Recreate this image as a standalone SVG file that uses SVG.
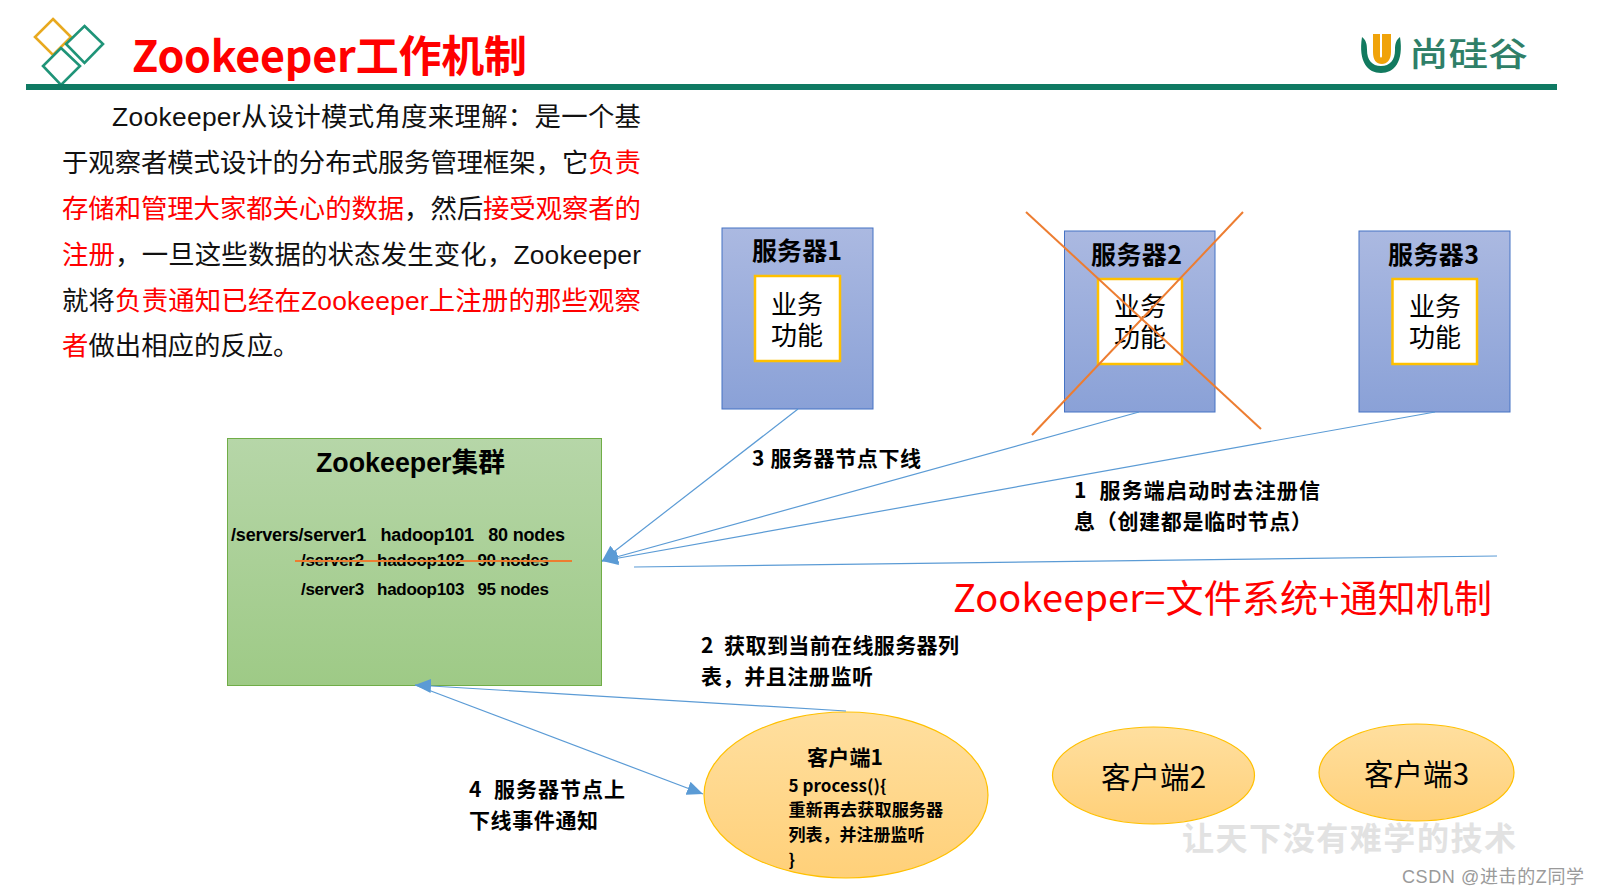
<svg xmlns="http://www.w3.org/2000/svg" width="1598" height="896" viewBox="0 0 1598 896">
<style>
text{font-family:"Noto Sans CJK SC","Noto Sans",sans-serif;fill:#000}
.b{font-weight:700}
.ar{font-family:"Liberation Sans","Noto Sans CJK SC",sans-serif;font-weight:700}
.body{font-family:"Liberation Sans","Noto Sans CJK SC",sans-serif;font-size:26.4px;fill:#111}
.red{fill:#f00}
.lbl{font-size:21px;font-weight:700}
.head{font-size:25px;font-weight:700}
.inner{font-family:"Liberation Sans","Noto Sans CJK SC",sans-serif;font-size:26px;text-anchor:middle}
.srv{fill:url(#blue);stroke:#4472c4;stroke-width:1}
.box{fill:#fff;stroke:#ffc000;stroke-width:2.5}
.cli{fill:url(#orange);stroke:#ffc000;stroke-width:1.2}
.conn{fill:none;stroke:#5b9bd5;stroke-width:1.2}
.cross{fill:none;stroke:#ed7d31;stroke-width:2}
.dia{fill:none;stroke-width:2.6}
</style>
<defs>
<linearGradient id="blue" x1="0" y1="0" x2="0" y2="1"><stop offset="0" stop-color="#abb9e1"/><stop offset="1" stop-color="#8aa1d7"/></linearGradient>
<linearGradient id="green" x1="0" y1="0" x2="0" y2="1"><stop offset="0" stop-color="#b6d6a8"/><stop offset="1" stop-color="#9eca86"/></linearGradient>
<linearGradient id="orange" x1="0" y1="0" x2="0" y2="1"><stop offset="0" stop-color="#ffdf9f"/><stop offset="1" stop-color="#ffd079"/></linearGradient>
<marker id="arrow" markerUnits="userSpaceOnUse" markerWidth="17" markerHeight="14" viewBox="0 0 17 14" refX="16" refY="7" orient="auto"><path d="M0 0L16 7L0 14Z" fill="#5b9bd5"/></marker>
</defs>
<rect width="1598" height="896" fill="#fff"/>

<g id="header">
<path class="dia" stroke="#e8a91f" d="M53 19L71 37L53 55L35 37Z"/>
<path class="dia" stroke="#1f9478" d="M84.500 26L103 44L84.500 63L66 44Z"/>
<path class="dia" stroke="#1f9478" d="M61 48L80 66L61 85L43 66Z"/>
<rect x="26" y="84" width="1531" height="6" fill="#0f7a63"/>
<text class="b" x="132" y="72" font-size="43" textLength="395" style="fill:#f00">Zookeeper工作机制</text>
<path d="M1362 37C1358 62 1368 73 1381 73C1394 73 1404 62 1400 37C1396 40 1395 44 1395 50C1395 60 1390 66 1381 66C1372 66 1367 60 1367 50C1367 44 1366 40 1362 37Z" fill="#127a5f"/>
<path d="M1373 34H1380V56C1380 58 1382 58 1382 56V34H1391V52C1391 60 1387 64 1382 64C1376 64 1373 60 1373 52Z" fill="#f0a30a"/>
<text transform="translate(1409 66) scale(1.2 1)" font-size="33" font-weight="500" style="fill:#2f7f68">尚硅谷</text>
</g>

<g id="description">
<text class="body" x="112" y="126" textLength="529">Zookeeper从设计模式角度来理解：是一个基</text>
<text class="body" x="62" y="172" textLength="579">于观察者模式设计的分布式服务管理框架，它<tspan class="red">负责</tspan></text>
<text class="body" x="62" y="218" textLength="579"><tspan class="red">存储和管理大家都关心的数据</tspan>，然后<tspan class="red">接受观察者的</tspan></text>
<text class="body" x="62" y="264" textLength="579"><tspan class="red">注册</tspan>，一旦这些数据的状态发生变化，Zookeeper</text>
<text class="body" x="62" y="310" textLength="579">就将<tspan class="red">负责通知已经在Zookeeper上注册的那些观察</tspan></text>
<text class="body" x="62" y="355"><tspan class="red">者</tspan>做出相应的反应。</text>
</g>

<g id="server1">
<rect class="srv" x="722" y="228" width="151" height="181"/>
<text class="head" x="752" y="260" textLength="90">服务器1</text>
<rect class="box" x="755" y="276" width="85" height="85"/>
<text class="inner"><tspan x="797" y="314">业务</tspan><tspan x="797" y="345">功能</tspan></text>
</g>
<g id="server2">
<rect class="srv" x="1064.500" y="231" width="150.500" height="181"/>
<text class="head" x="1091" y="264" textLength="91">服务器2</text>
<rect class="box" x="1098" y="279" width="84" height="85"/>
<text class="inner"><tspan x="1140" y="316">业务</tspan><tspan x="1140" y="347">功能</tspan></text>
</g>
<g id="server3">
<rect class="srv" x="1359" y="231" width="151" height="181"/>
<text class="head" x="1388" y="264" textLength="91">服务器3</text>
<rect class="box" x="1392.500" y="279" width="84.500" height="85"/>
<text class="inner"><tspan x="1435" y="316">业务</tspan><tspan x="1435" y="347">功能</tspan></text>
</g>

<g id="cluster">
<rect x="227.500" y="438.500" width="374" height="247" fill="url(#green)" stroke="#70ad47" stroke-width="1"/>
<text class="ar" x="316" y="472" font-size="26.800">Zookeeper集群</text>
<text class="ar" x="231" y="541" font-size="18" textLength="334" xml:space="preserve">/servers/server1   hadoop101   80 nodes</text>
<text class="ar" x="301" y="566" font-size="17" textLength="248" xml:space="preserve">/server2   hadoop102   90 nodes</text>
<text class="ar" x="301" y="595" font-size="17" textLength="248" xml:space="preserve">/server3   hadoop103   95 nodes</text>
</g>

<g id="client1">
<ellipse class="cli" cx="846" cy="795" rx="142" ry="83"/>
<text class="b" x="807" y="765" font-size="21" textLength="76">客户端1</text>
<text class="b" x="788.500" y="792" font-size="17" textLength="98">5 process(){</text>
<text class="b" x="788.500" y="816" font-size="17.200">重新再去获取服务器</text>
<text class="b" x="788.500" y="841" font-size="17">列表，并注册监听</text>
<text class="b" x="788.500" y="866" font-size="17">}</text>
</g>
<g id="client2">
<ellipse class="cli" cx="1153.500" cy="775.500" rx="101" ry="48.500"/>
<text x="1101" y="788" font-size="29.500" textLength="105">客户端2</text>
</g>
<g id="client3">
<ellipse class="cli" cx="1416.500" cy="772.500" rx="97.500" ry="48.500"/>
<text x="1364" y="785" font-size="29.500" textLength="105">客户端3</text>
</g>

<g id="connectors">
<path class="conn" marker-end="url(#arrow)" d="M798 409L602 561"/>
<path class="conn" marker-end="url(#arrow)" d="M1139 412L602 561"/>
<path class="conn" marker-end="url(#arrow)" d="M1435 412L602 561"/>
<path class="conn" d="M634 567L1497 556"/>
<path class="conn" marker-end="url(#arrow)" d="M846 711L415 685"/>
<path class="conn" marker-end="url(#arrow)" d="M415 685L703 794"/>
</g>

<g id="strikes">
<path class="cross" d="M1026 212L1261 429"/>
<path class="cross" d="M1243 212L1032 435"/>
<path class="cross" d="M295 561H572"/>
</g>

<g id="labels">
<text class="lbl" x="752" y="466" textLength="169">3 服务器节点下线</text>
<text class="lbl" x="1074" y="498" textLength="246" xml:space="preserve">1  服务端启动时去注册信</text>
<text class="lbl" x="1074" y="529" textLength="238">息（创建都是临时节点）</text>
<text x="953" y="612" font-size="38" textLength="539" style="fill:#f00">Zookeeper=文件系统+通知机制</text>
<text class="lbl" x="701" y="653" textLength="258" xml:space="preserve">2  获取到当前在线服务器列</text>
<text class="lbl" x="701" y="684" textLength="172">表，并且注册监听</text>
<text class="lbl" x="469" y="797" textLength="156" xml:space="preserve">4  服务器节点上</text>
<text class="lbl" x="469" y="828" textLength="129">下线事件通知</text>
</g>

<g id="watermarks">
<text x="1182" y="850" font-size="32" font-weight="700" textLength="334" style="fill:#e2e2e2">让天下没有难学的技术</text>
<text x="1402" y="883" font-size="18" textLength="182" style="fill:#9a9a9a;font-family:'Liberation Sans','Noto Sans CJK SC',sans-serif">CSDN @进击的Z同学</text>
</g>
</svg>
